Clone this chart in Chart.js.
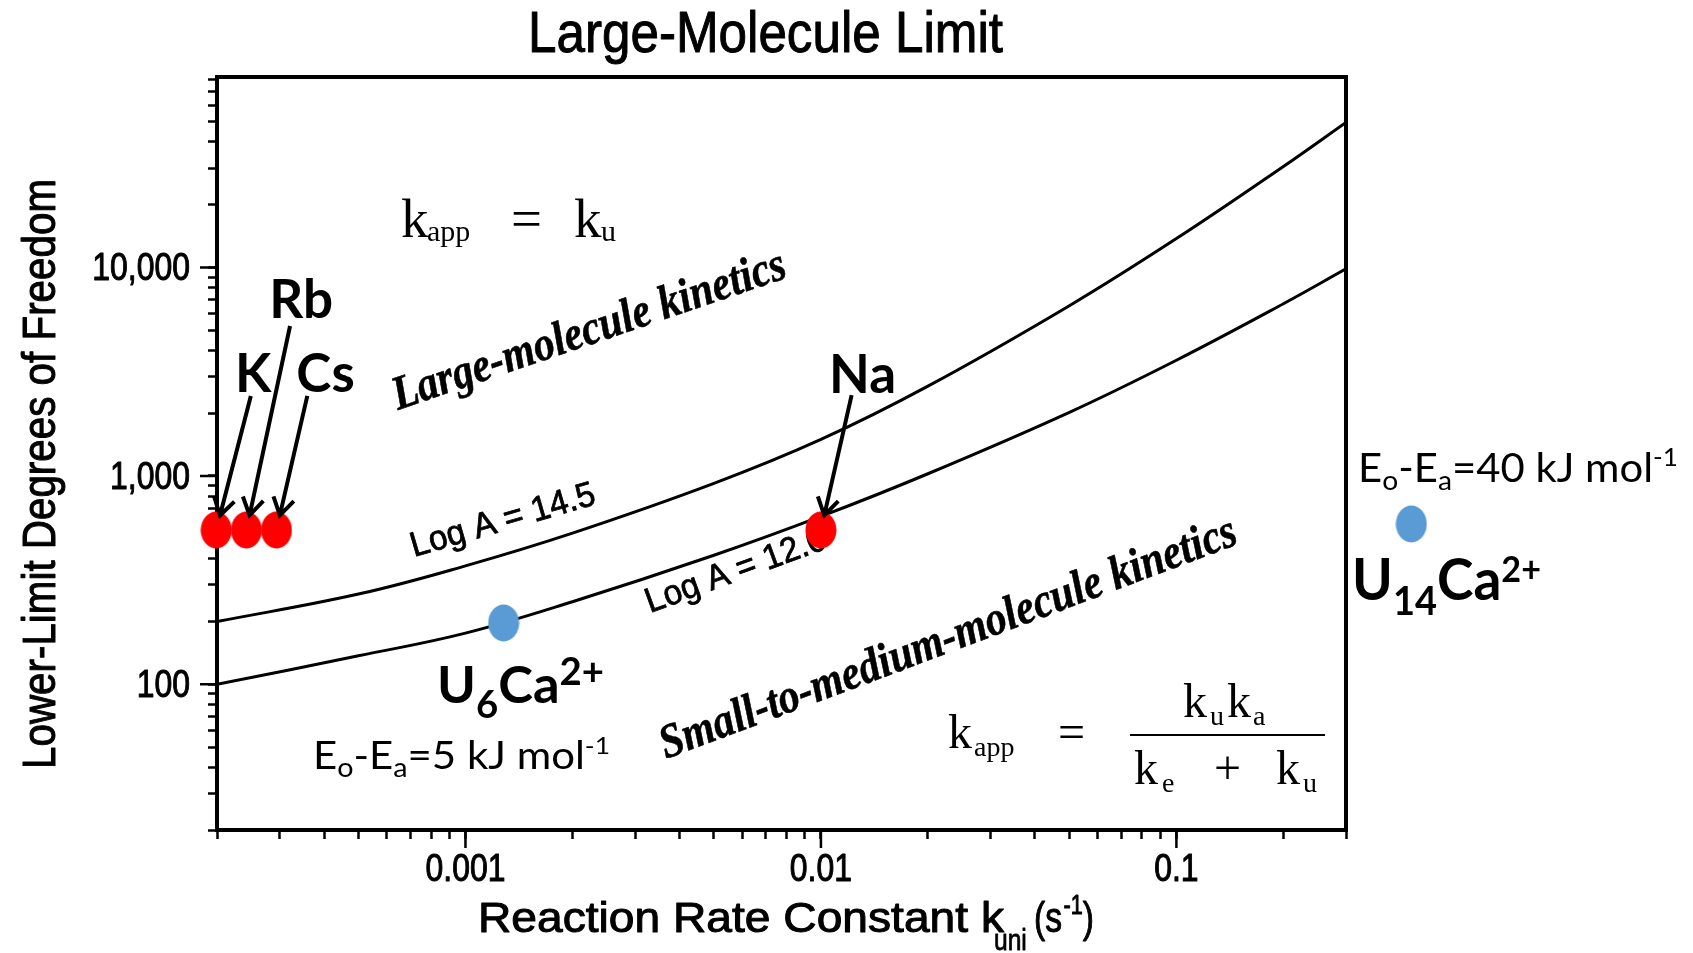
<!DOCTYPE html>
<html>
<head>
<meta charset="utf-8">
<script src="https://cdn.jsdelivr.net/npm/chart.js@4.4.1/dist/chart.umd.min.js"></script>
<style>
  html, body { margin: 0; padding: 0; background: #fff; }
  canvas { display: block; }
</style>
</head>
<body>
<canvas id="c" width="1693" height="953"></canvas>
<script>
// ---- data -------------------------------------------------------------
// Lower-limit curves: rate constant k_uni (s^-1) and degrees of freedom
const kLogA145   = [2e-4, 5e-4, 1e-3, 2e-3, 5e-3, 1e-2, 2e-2, 5e-2, 1e-1, 2e-1, 3e-1];
const dofLogA145 = [200, 271, 370, 531, 920, 1495, 2694, 6552, 13754, 30520, 49660];
const kLogA120   = [2e-4, 5e-4, 1e-3, 2e-3, 5e-3, 1e-2, 2e-2, 5e-2, 1e-1, 2e-1, 3e-1];
const dofLogA120 = [100, 137, 176, 249, 416, 639, 1024, 2018, 3588, 6695, 9844];

// Alkali-metal complexes (red) and uracil clusters (blue)
const alkaliNames = ['K', 'Rb', 'Cs', 'Na'];
const alkaliK     = [1.99e-4, 2.42e-4, 2.94e-4, 1.0e-2];
const alkaliDof   = [550, 550, 550, 550];
const clusterK    = [1.28e-3, 0.458];
const clusterDof  = [197, 588];

// Where each element name sits and where its arrow starts (data units)
const alkaliLabelK   = [2.53e-4, 3.45e-4, 4.04e-4, 1.31e-2];
const alkaliLabelDof = [2527, 5725, 2527, 2499];
const arrowStartK    = [2.49e-4, 3.21e-4, 3.59e-4, 1.22e-2];
const arrowStartDof  = [2420, 5240, 2420, 2440];

// Axes
const xMin = 2e-4, xMax = 0.3, yMin = 20, yMax = 82000;
const xTickValues = [0.001, 0.01, 0.1];
const xTickText   = ['0.001', '0.01', '0.1'];
const yTickValues = [100, 1000, 10000];
const yTickText   = ['100', '1,000', '10,000'];

// ---- helpers ----------------------------------------------------------
const SANS  = '"Liberation Sans", Arial, sans-serif';
const SERIF = '"Liberation Serif", "Times New Roman", serif';
const CAL   = 'Lato, "Open Sans", sans-serif';
const deg = d => d * Math.PI / 180;

function logTicks(min, max) {
  const out = [];
  for (let e = Math.floor(Math.log10(min)); e <= Math.ceil(Math.log10(max)); e++) {
    for (let m = 1; m <= 9; m++) {
      const v = parseFloat((m * Math.pow(10, e)).toPrecision(12));
      if (v >= min * (1 - 1e-9) && v <= max * (1 + 1e-9)) out.push({ value: v, major: m === 1 });
    }
  }
  return out;
}

function segWidth(c, segs) {
  let w = 0;
  for (const s of segs) { c.font = s.font; w += c.measureText(s.t).width + (s.gap || 0); }
  return w;
}

// Draws a run of text pieces (sub/superscripts via dy) with optional
// rotation, horizontal scaling and a thin outline for heavier strokes.
function drawRich(c, segs, x, y, o = {}) {
  const nat = segWidth(c, segs);
  const k = o.width ? o.width / nat : (o.sx || 1);
  c.save();
  c.fillStyle = '#000';
  c.strokeStyle = '#000';
  c.lineWidth = o.heavy || 0;
  c.lineJoin = 'round';
  c.translate(x, y);
  if (o.angle) c.rotate(o.angle);
  c.scale(k, 1);
  let cx = o.align === 'center' ? -nat / 2 : o.align === 'right' ? -nat : 0;
  for (const s of segs) {
    c.font = s.font;
    c.fillText(s.t, cx, s.dy || 0);
    if (o.heavy) c.strokeText(s.t, cx, s.dy || 0);
    cx += c.measureText(s.t).width + (s.gap || 0);
  }
  c.restore();
}

function placed(c, items) {
  c.fillStyle = '#000';
  for (const it of items) { c.font = it.font; c.fillText(it.t, it.x, it.y); }
}

function ellipseDot(color, w, h) {
  const cv = document.createElement('canvas');
  cv.width = w; cv.height = h;
  const g = cv.getContext('2d');
  g.fillStyle = color;
  g.beginPath();
  g.ellipse(w / 2, h / 2, w / 2 - 0.5, h / 2 - 0.5, 0, 0, Math.PI * 2);
  g.fill();
  return cv;
}

function arrow(c, x0, y0, x1, y1) {
  const a = Math.atan2(y1 - y0, x1 - x0);
  const L = 20, s = 0.55;
  c.beginPath();
  c.moveTo(x0, y0); c.lineTo(x1, y1);
  c.moveTo(x1 - L * Math.cos(a - s), y1 - L * Math.sin(a - s));
  c.lineTo(x1, y1);
  c.lineTo(x1 - L * Math.cos(a + s), y1 - L * Math.sin(a + s));
  c.stroke();
}

// ---- annotation layer -------------------------------------------------
const annotate = {
  id: 'annotate',
  beforeDraw(chart) {
    const c = chart.ctx;
    c.save(); c.fillStyle = '#fff'; c.fillRect(0, 0, chart.width, chart.height); c.restore();
  },
  beforeDatasetsDraw(chart) {
    const c = chart.ctx;
    c.save();
    c.fillStyle = '#000'; c.textBaseline = 'alphabetic'; c.textAlign = 'left';

    // regime names
    drawRich(c, [{ t: 'Large-molecule kinetics', font: `italic bold 48px ${SERIF}` }],
      398, 410, { width: 413, angle: deg(-18.8), heavy: 0.6 });
    drawRich(c, [{ t: 'Small-to-medium-molecule kinetics', font: `italic bold 48px ${SERIF}` }],
      666, 759, { width: 613, angle: deg(-20.6), heavy: 0.6 });

    // curve names
    drawRich(c, [{ t: 'Log A = 14.5', font: `35px ${SANS}` }], 414, 557, { width: 191, angle: deg(-16.2), heavy: 0.8 });
    drawRich(c, [{ t: 'Log A = 12.0', font: `35px ${SANS}` }], 650, 613, { width: 190, angle: deg(-20), heavy: 0.8 });

    // k_app = k_u
    const s55 = `55px ${SERIF}`, s30 = `30px ${SERIF}`;
    placed(c, [
      { t: 'k', font: s55, x: 401, y: 237 }, { t: 'app', font: s30, x: 427, y: 241 },
      { t: '=', font: s55, x: 511, y: 237 },
      { t: 'k', font: s55, x: 574, y: 237 }, { t: 'u', font: s30, x: 601, y: 241 }
    ]);

    // k_app = k_u k_a / (k_e + k_u)
    const s48 = `48px ${SERIF}`, s28 = `28px ${SERIF}`;
    placed(c, [
      { t: 'k', font: s48, x: 948, y: 748 }, { t: 'app', font: s28, x: 974, y: 756 },
      { t: '=', font: s48, x: 1058, y: 748 },
      { t: 'k', font: s48, x: 1183, y: 717 }, { t: 'u', font: s28, x: 1210, y: 725 },
      { t: 'k', font: s48, x: 1227, y: 717 }, { t: 'a', font: s28, x: 1253, y: 725 },
      { t: 'k', font: s48, x: 1134, y: 784 }, { t: 'e', font: s28, x: 1162, y: 792 },
      { t: '+', font: s48, x: 1214, y: 784 },
      { t: 'k', font: s48, x: 1276, y: 784 }, { t: 'u', font: s28, x: 1303, y: 792 }
    ]);
    c.fillRect(1130, 734, 195, 2);
    c.restore();
  },
  afterDatasetsDraw(chart) {
    const c = chart.ctx;
    const xs = chart.scales.x, ys = chart.scales.y, area = chart.chartArea;

    // cluster points that fall outside the frame
    c.save();
    const cm = chart.getDatasetMeta(1);
    cm.data.forEach(el => { if (!chart.isPointInArea(el)) el.draw(c); });
    c.restore();

    c.save();
    c.fillStyle = '#000'; c.strokeStyle = '#000';
    c.textBaseline = 'alphabetic'; c.textAlign = 'left';

    // frame: top and right edges
    c.lineWidth = 4;
    c.beginPath();
    c.moveTo(area.left - 2, area.top); c.lineTo(area.right, area.top);
    c.moveTo(area.right, area.top - 2); c.lineTo(area.right, area.bottom + 2);
    c.stroke();

    // longer ticks at the decades
    c.lineWidth = 2.5;
    c.beginPath();
    xTickValues.forEach(v => { const p = xs.getPixelForValue(v); c.moveTo(p, area.bottom); c.lineTo(p, area.bottom + 18); });
    yTickValues.forEach(v => { const p = ys.getPixelForValue(v); c.moveTo(area.left, p); c.lineTo(area.left - 17, p); });
    c.stroke();

    // tick labels
    const tf = `38px ${SANS}`;
    xTickValues.forEach((v, i) => drawRich(c, [{ t: xTickText[i], font: tf }], xs.getPixelForValue(v), area.bottom + 51, { sx: 0.84, align: 'center', heavy: 1 }));
    yTickValues.forEach((v, i) => drawRich(c, [{ t: yTickText[i], font: tf }], area.left - 27, ys.getPixelForValue(v) + 13, { sx: 0.84, align: 'right', heavy: 1 }));

    // arrows from the element names to the red points
    const am = chart.getDatasetMeta(0);
    c.strokeStyle = '#000';
    c.lineWidth = 4; c.lineJoin = 'miter';
    am.data.forEach((el, i) => {
      const x0 = xs.getPixelForValue(arrowStartK[i]), y0 = ys.getPixelForValue(arrowStartDof[i]);
      const dx = el.x - x0, dy = el.y - y0, d = Math.hypot(dx, dy);
      arrow(c, x0, y0, el.x - 15 * dx / d, el.y - 15 * dy / d);
    });
    alkaliNames.forEach((n, i) => drawRich(c, [{ t: n, font: `bold 53px ${CAL}` }],
      xs.getPixelForValue(alkaliLabelK[i]), ys.getPixelForValue(alkaliLabelDof[i]), { align: 'center' }));

    // cluster names
    drawRich(c, [
      { t: 'U', font: `bold 52px ${CAL}` }, { t: '6', font: `bold 38px ${CAL}`, dy: 15 },
      { t: 'Ca', font: `bold 52px ${CAL}` }, { t: '2+', font: `bold 38px ${CAL}`, dy: -18 }
    ], 437, 703, { width: 167 });
    drawRich(c, [
      { t: 'U', font: `bold 58px ${CAL}` }, { t: '14', font: `bold 40px ${CAL}`, dy: 15 },
      { t: 'Ca', font: `bold 58px ${CAL}` }, { t: '2+', font: `bold 36px ${CAL}`, dy: -18 }
    ], 1352, 600, { width: 189 });

    // barrier notes
    drawRich(c, [
      { t: 'E', font: `38px ${CAL}` }, { t: 'o', font: `26px ${CAL}`, dy: 8 },
      { t: '-E', font: `38px ${CAL}` }, { t: 'a', font: `26px ${CAL}`, dy: 8 },
      { t: '=5 kJ mol', font: `38px ${CAL}` }, { t: '-1', font: `24px ${CAL}`, dy: -15 }
    ], 313, 769, { width: 297 });
    drawRich(c, [
      { t: 'E', font: `40px ${CAL}` }, { t: 'o', font: `27px ${CAL}`, dy: 8 },
      { t: '-E', font: `40px ${CAL}` }, { t: 'a', font: `27px ${CAL}`, dy: 8 },
      { t: '=40 kJ mol', font: `40px ${CAL}` }, { t: '-1', font: `25px ${CAL}`, dy: -16 }
    ], 1358, 482, { width: 320 });

    // chart title and axis titles
    drawRich(c, [{ t: 'Large-Molecule Limit', font: `58px ${SANS}` }], 528, 52, { width: 475, heavy: 1 });
    drawRich(c, [{ t: 'Lower-Limit Degrees of Freedom', font: `47px ${SANS}` }], 55, 769, { width: 590, angle: deg(-90), heavy: 1 });
    drawRich(c, [{ t: 'Reaction Rate Constant k', font: `42px ${SANS}` }], 478, 932, { width: 526, heavy: 1 });
    drawRich(c, [{ t: 'uni', font: `30px ${SANS}` }], 994, 950, { sx: 0.82, heavy: 0.8 });
    drawRich(c, [
      { t: '(s', font: `42px ${SANS}`, gap: 2 }, { t: '-1', font: `27px ${SANS}`, dy: -18 }, { t: ')', font: `42px ${SANS}` }
    ], 1034, 932, { sx: 0.8, heavy: 1 });
    c.restore();
  }
};

// ---- chart ------------------------------------------------------------
const redDot = ellipseDot('#ff0000', 32, 38);
const blueDot = ellipseDot('#5b9bd5', 32, 38);
const pts = (xs, ys) => xs.map((x, i) => ({ x, y: ys[i] }));

const axisCommon = {
  type: 'logarithmic',
  ticks: { display: false },
  grid: { drawOnChartArea: false, drawTicks: true, tickLength: 9, tickWidth: 2.5, tickColor: '#000', color: '#000' },
  border: { display: true, color: '#000', width: 4 },
  title: { display: false }
};

new Chart(document.getElementById('c').getContext('2d'), {
  type: 'scatter',
  data: {
    datasets: [
      { label: 'alkali', data: pts(alkaliK, alkaliDof), pointStyle: redDot, pointRadius: 16, clip: false,
        backgroundColor: '#ff0000', borderColor: '#ff0000' },
      { label: 'clusters', data: pts(clusterK, clusterDof), pointStyle: blueDot, pointRadius: 16, clip: false,
        backgroundColor: '#5b9bd5', borderColor: '#5b9bd5' },
      { type: 'line', label: 'Log A = 14.5', data: pts(kLogA145, dofLogA145), borderColor: '#000',
        borderWidth: 3, pointRadius: 0, fill: false, tension: 0.4 },
      { type: 'line', label: 'Log A = 12.0', data: pts(kLogA120, dofLogA120), borderColor: '#000',
        borderWidth: 3, pointRadius: 0, fill: false, tension: 0.4 }
    ]
  },
  options: {
    responsive: false,
    animation: false,
    devicePixelRatio: 1,
    layout: { padding: { left: 0, top: 77, right: 347, bottom: 0 } },
    plugins: { legend: { display: false }, tooltip: { enabled: false }, title: { display: false } },
    events: [],
    scales: {
      x: Object.assign({}, axisCommon, {
        position: 'bottom', min: xMin, max: xMax,
        afterBuildTicks: s => { s.ticks = logTicks(xMin, xMax); },
        afterFit: s => { s.height = 123; }
      }),
      y: Object.assign({}, axisCommon, {
        position: 'left', min: yMin, max: yMax,
        afterBuildTicks: s => { s.ticks = logTicks(yMin, yMax); },
        afterFit: s => { s.width = 217; }
      })
    }
  },
  plugins: [annotate]
});
</script>
</body>
</html>
